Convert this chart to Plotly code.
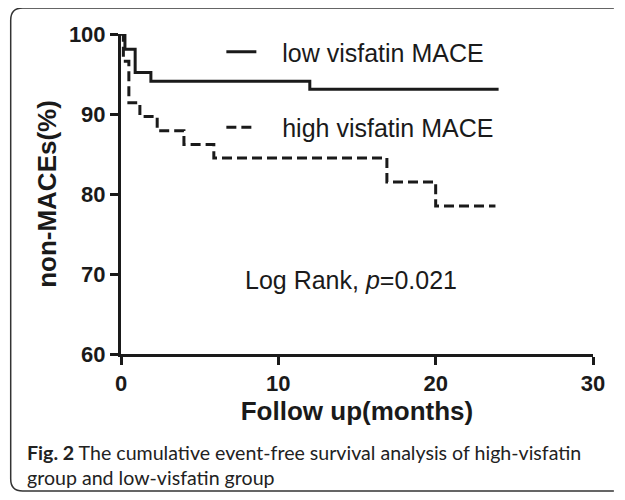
import plotly.graph_objects as go

# ---- data ----
low_months = [0, 0.25, 0.9, 1.9, 12.0, 24.0]
low_surv = [100, 98.1, 95.2, 94.1, 93.1, 93.1]

high_months = [0, 0.15, 0.5, 1.2, 2.3, 4.0, 5.9, 16.9, 20.0, 23.8]
high_surv = [100, 96.6, 91.4, 89.7, 87.9, 86.2, 84.5, 81.5, 78.5, 78.5]

x_ticks = [0, 10, 20, 30]
y_ticks = [60, 70, 80, 90, 100]

series_names = ["low visfatin MACE", "high visfatin MACE"]
x_title = "Follow up(months)"
y_title = "non-MACEs(%)"
stat_text = "Log Rank, <i>p</i>=0.021"
caption = ("<b>Fig. 2</b> The cumulative event-free survival analysis of high-visfatin"
           "<br>group and low-visfatin group")

# ---- layout geometry (page pixels; page body has an 8px margin all round) ----
O = 8
W, H = 625 - 2 * O, 500 - 2 * O
L, R, T, B = 121 - O, 596 - O, 34 - O, 354 - O
PW, PH = R - L, B - T


def px(xp):
    return (xp - O - L) / PW


def py(yp):
    return (B - (yp - O)) / PH


INK = "#1a1a1a"
ARIAL = "Liberation Sans, Arial, sans-serif"
NB = "\u00a0"

fig = go.Figure()
fig.add_trace(go.Scatter(
    x=low_months, y=low_surv, mode="lines", line_shape="hv",
    line=dict(color=INK, width=3), name=NB * 3 + series_names[0],
    legendgroup="a", cliponaxis=False))
fig.add_trace(go.Scatter(
    x=high_months, y=high_surv, mode="lines", line_shape="hv",
    line=dict(color=INK, width=3, dash="10px,5px"), name=NB * 3 + series_names[1],
    legendgroup="b", cliponaxis=False))

axis_common = dict(
    showline=True, linewidth=3, linecolor=INK, ticks="outside", ticklen=8,
    tickwidth=3, tickcolor=INK, showgrid=False, zeroline=False,
    tickfont=dict(family=ARIAL, size=22, color=INK, weight="bold"),
    title_font=dict(family=ARIAL, size=26, color=INK, weight="bold"),
)

fig.update_xaxes(range=[0, 30], tickvals=x_ticks, title_text=x_title,
                 title_standoff=4, **axis_common)
fig.update_yaxes(range=[60, 100], tickvals=y_ticks, title_text=y_title,
                 title_standoff=5, **axis_common)

# rounded frame (open on the right, which runs to the page edge)
x0, y0, x1, y1, r = 10, 8, 617, 491, 12
rx, ry = r / PW, r / PH
path = (f"M {px(x1)},{py(y0)} "
        f"L {px(x0) + rx},{py(y0)} "
        f"Q {px(x0)},{py(y0)} {px(x0)},{py(y0) - ry} "
        f"L {px(x0)},{py(y1) + ry} "
        f"Q {px(x0)},{py(y1)} {px(x0) + rx},{py(y1)} "
        f"L {px(x1)},{py(y1)}")
fig.add_shape(type="path", path=path, xref="paper", yref="paper",
              line=dict(color="#333333", width=1.5), layer="below")

fig.add_annotation(text=stat_text, x=14.6, y=69.25, xref="x", yref="y",
                   showarrow=False, font=dict(family=ARIAL, size=25, color=INK))

fig.add_annotation(text=caption, x=px(24), y=py(439), xref="paper", yref="paper",
                   xanchor="left", yanchor="top", align="left", showarrow=False,
                   font=dict(family="Lato, sans-serif", size=19.6, color="#222222"))

fig.update_layout(
    width=W, height=H,
    margin=dict(l=L, r=W - R, t=T, b=H - B, pad=0),
    paper_bgcolor="white", plot_bgcolor="white",
    showlegend=True,
    legend=dict(x=px(222), y=py(29), xanchor="left", yanchor="top",
                bgcolor="rgba(0,0,0,0)", tracegroupgap=40,
                font=dict(family=ARIAL, size=25, color=INK),
                itemwidth=30),
)

fig.write_html("out.html")
